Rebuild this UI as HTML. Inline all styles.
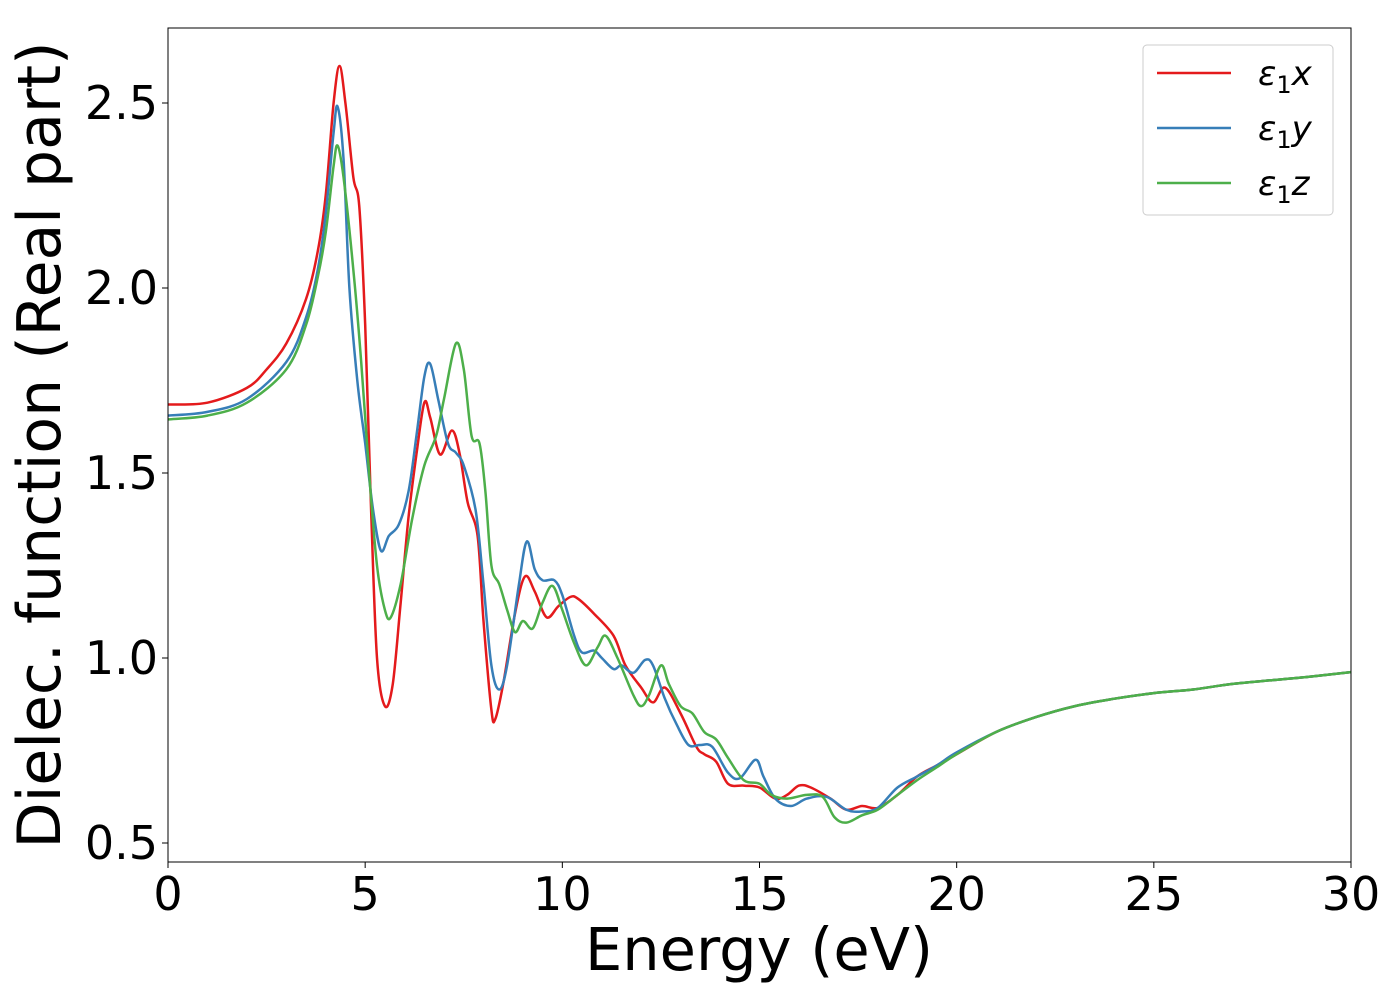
<!DOCTYPE html>
<html><head><meta charset="utf-8"><style>
body{margin:0;background:#fff;}
svg{font-family:"DejaVu Sans","Liberation Sans",sans-serif;}
</style></head><body>
<svg id="chart" width="1400" height="1000">
<rect x="0" y="0" width="1400" height="1000" fill="#fff"/>
<g id="plot"></g>
<g id="axes"></g>
</svg>
<script>
const xTicks=[0,5,10,15,20,25,30];
const yTicks=[0.5,1.0,1.5,2.0,2.5];
const yTickLabels=["0.5","1.0","1.5","2.0","2.5"];
const seriesNames=["ε1x","ε1y","ε1z"];
const tailE=[21,22,23,24,25,26,27,28,29,30];
const tailV=[0.8,0.84,0.87,0.89,0.905,0.915,0.93,0.94,0.95,0.962];
const redE=[0,1,2,2.5,3,3.5,3.8,4.0,4.2,4.35,4.5,4.7,4.85,5.0,5.15,5.3,5.5,5.7,5.9,6.1,6.3,6.5,6.65,6.9,7.2,7.4,7.6,7.85,8.0,8.2,8.3,8.5,8.8,9.05,9.3,9.6,9.9,10.2,10.4,10.8,11.3,11.6,12.0,12.3,12.6,13.0,13.4,13.6,13.9,14.2,14.6,15.0,15.4,15.7,16.0,16.3,16.8,17.2,17.6,18.0,18.5,19.0,19.5,20];
const redV=[1.685,1.69,1.73,1.78,1.85,1.97,2.1,2.25,2.5,2.6,2.5,2.3,2.22,1.9,1.4,1.0,0.87,0.93,1.15,1.38,1.55,1.69,1.65,1.55,1.615,1.55,1.42,1.33,1.1,0.86,0.835,0.93,1.12,1.22,1.18,1.11,1.14,1.165,1.16,1.12,1.06,0.98,0.92,0.88,0.92,0.85,0.76,0.74,0.72,0.66,0.655,0.65,0.62,0.63,0.655,0.65,0.62,0.59,0.6,0.595,0.63,0.68,0.71,0.74];
const blueE=[0,1,2,3,3.5,3.8,4.0,4.2,4.3,4.45,4.6,4.8,5.0,5.2,5.4,5.6,5.85,6.1,6.3,6.5,6.65,6.85,7.1,7.3,7.5,7.8,8.0,8.2,8.4,8.6,8.9,9.1,9.3,9.5,9.8,10.0,10.3,10.5,10.8,11.0,11.3,11.5,11.8,12.1,12.3,12.6,12.9,13.2,13.5,13.8,14.2,14.5,14.9,15.1,15.4,15.8,16.2,16.7,17.2,17.6,18.0,18.5,19,19.5,20];
const blueV=[1.655,1.665,1.7,1.8,1.92,2.05,2.2,2.42,2.49,2.35,2.0,1.75,1.58,1.4,1.29,1.33,1.36,1.45,1.6,1.76,1.795,1.7,1.58,1.555,1.52,1.4,1.2,0.98,0.915,0.98,1.2,1.315,1.24,1.21,1.21,1.17,1.06,1.015,1.02,1.0,0.97,0.98,0.96,0.995,0.98,0.89,0.82,0.765,0.765,0.76,0.69,0.675,0.725,0.68,0.62,0.6,0.62,0.625,0.59,0.585,0.595,0.65,0.68,0.71,0.745];
const greenE=[0,1,2,3,3.5,3.8,4.0,4.2,4.3,4.45,4.7,4.9,5.1,5.3,5.5,5.65,5.9,6.2,6.5,6.8,7.0,7.3,7.5,7.7,7.9,8.05,8.2,8.4,8.6,8.8,9.0,9.25,9.5,9.75,10.0,10.3,10.6,10.9,11.1,11.4,11.8,12.0,12.2,12.5,12.7,13.0,13.3,13.6,13.9,14.2,14.6,15.0,15.3,15.7,16.2,16.6,16.9,17.2,17.6,18.0,18.5,19,19.5,20];
const greenV=[1.645,1.655,1.69,1.78,1.9,2.03,2.15,2.33,2.385,2.3,2.05,1.8,1.5,1.25,1.13,1.11,1.2,1.38,1.52,1.6,1.7,1.85,1.78,1.6,1.58,1.45,1.25,1.2,1.13,1.07,1.1,1.08,1.15,1.195,1.13,1.04,0.98,1.03,1.06,1.0,0.9,0.87,0.9,0.98,0.93,0.87,0.85,0.8,0.78,0.73,0.67,0.66,0.63,0.62,0.63,0.625,0.57,0.555,0.575,0.59,0.63,0.67,0.705,0.74];
const NS="http://www.w3.org/2000/svg";
const L=168,R=1351,T=28,B=862;
function sx(e){return L+(e-0)/(30-0)*(R-L);}
function sy(v){return 658-(v-1.0)*370;}
function mk(tag,attrs,parent){const el=document.createElementNS(NS,tag);for(const k in attrs)el.setAttribute(k,attrs[k]);parent.appendChild(el);return el;}
function smoothPath(pts){
  let d="M"+pts[0][0].toFixed(1)+","+pts[0][1].toFixed(1);
  for(let i=0;i<pts.length-1;i++){
    const p0=pts[Math.max(0,i-1)],p1=pts[i],p2=pts[i+1],p3=pts[Math.min(pts.length-1,i+2)];
    const c1x=p1[0]+(p2[0]-p0[0])/6,c1y=p1[1]+(p2[1]-p0[1])/6;
    const c2x=p2[0]-(p3[0]-p1[0])/6,c2y=p2[1]-(p3[1]-p1[1])/6;
    d+=" C"+c1x.toFixed(1)+","+c1y.toFixed(1)+" "+c2x.toFixed(1)+","+c2y.toFixed(1)+" "+p2[0].toFixed(1)+","+p2[1].toFixed(1);
  }
  return d;
}
const plot=document.getElementById('plot');
const axes=document.getElementById('axes');
const defs=mk('defs',{},plot);
const cp=mk('clipPath',{id:'clip'},defs);
mk('rect',{x:L,y:T,width:R-L,height:B-T},cp);
const series=[[redE,redV,"#e41a1c","series-e1x"],[blueE,blueV,"#377eb8","series-e1y"],[greenE,greenV,"#4daf4a","series-e1z"]];
series.forEach(s=>{
  const E=s[0].concat(tailE),V=s[1].concat(tailV);
  const pts=E.map((e,i)=>[sx(e),sy(V[i])]);
  const p=mk('path',{d:smoothPath(pts),fill:'none',stroke:s[2],'stroke-width':2.5,'clip-path':'url(#clip)'},plot);
  
  
});
const frame=mk('rect',{x:L,y:T,width:R-L,height:B-T,fill:'none',stroke:'#000','stroke-width':1},axes);


xTicks.forEach(t=>{
  const tk=mk('line',{x1:sx(t),x2:sx(t),y1:B,y2:B+6,stroke:'#000','stroke-width':1},axes);
  
  
  const tx=mk('text',{x:sx(t),y:B+48,'font-size':46,'text-anchor':'middle'},axes);
  tx.textContent=String(t);
  
  
});
yTicks.forEach((t,i)=>{
  const tk=mk('line',{x1:L-6,x2:L,y1:sy(t),y2:sy(t),stroke:'#000','stroke-width':1},axes);
  
  
  const tx=mk('text',{x:L-10,y:sy(t)+16,'font-size':46,'text-anchor':'end'},axes);
  tx.textContent=yTickLabels[i];
  
  
});
const xl=mk('text',{x:759,y:970,'font-size':59,'text-anchor':'middle'},axes);
xl.textContent="Energy (eV)";


const yl=mk('text',{x:0,y:0,'font-size':60,'text-anchor':'middle',transform:'translate(60,445) rotate(-90)'},axes);
yl.textContent="Dielec. function (Real part)";


const lg=mk('g',{},axes);


mk('rect',{x:1143,y:45,width:190,height:170,rx:4,fill:'#fff',stroke:'#ccc','stroke-width':1},lg);
series.forEach((s,i)=>{
  const y=73+i*55;
  const ln=mk('line',{x1:1157,x2:1231,y1:y,y2:y,stroke:s[2],'stroke-width':2.5},lg);
  
  
  const tx=mk('text',{x:1258,y:y+12,'font-size':34,'font-style':'italic'},lg);
  
  
  const a=mk('tspan',{},tx);a.textContent="ε";
  const b=mk('tspan',{'font-size':24,dy:8,'font-style':'normal'},tx);b.textContent="1";
  const c=mk('tspan',{dy:-8},tx);c.textContent=seriesNames[i].slice(2);
});
</script>
</body></html>
